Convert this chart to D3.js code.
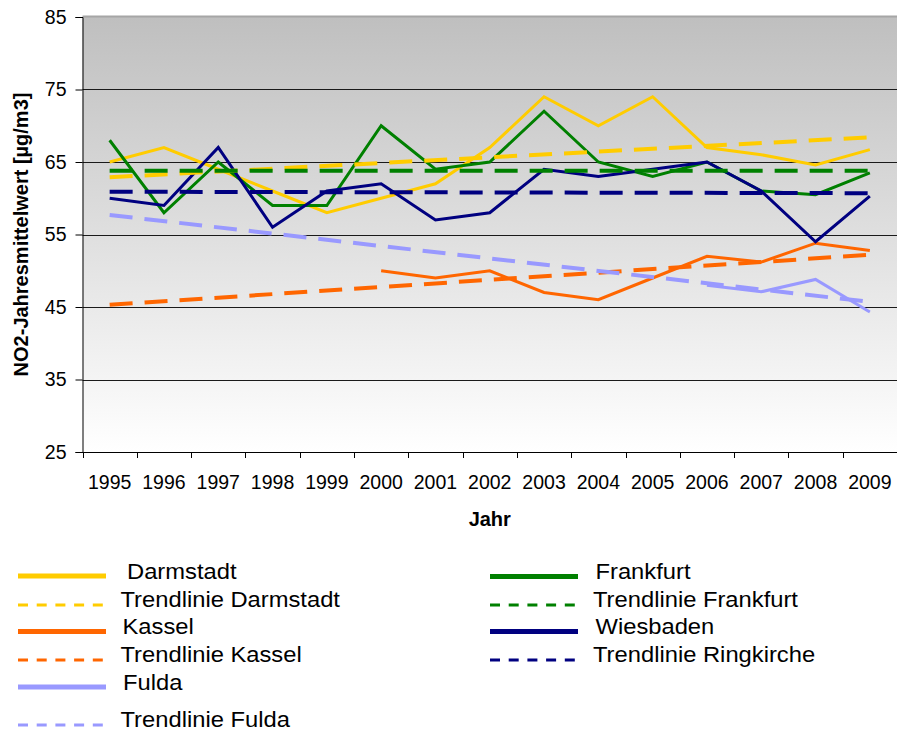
<!DOCTYPE html>
<html>
<head>
<meta charset="utf-8">
<script src="https://cdn.jsdelivr.net/npm/d3@7"></script>
<style>
  html, body { margin: 0; padding: 0; background: #fff; }
  svg { display: block; font-family: "Liberation Sans", Arial, sans-serif; }
</style>
</head>
<body>
<svg id="chart" width="897" height="731"></svg>
<script>
// ---------- data ----------
const years = ["1995","1996","1997","1998","1999","2000","2001","2002","2003","2004","2005","2006","2007","2008","2009"];
const yTicks = [25, 35, 45, 55, 65, 75, 85];

const darmstadt = [65, 67, 64, 61, 58, 60, 62, 67, 74, 70, 74, 67, 66, 64.6, 66.7];
const frankfurt = [68, 58, 65, 59, 59, 70, 64, 65, 72, 65, 63, 65, 61, 60.5, 63.5];
const wiesbaden = [60, 59, 67, 56, 61, 62, 57, 58, 64, 63, 64, 65, 61, 54, 60.3];
const kassel    = [null, null, null, null, null, 50, 49, 50, 47, 46, 49, 52, 51.2, 53.8, 52.8];
const fulda     = [null, null, null, null, null, null, null, null, null, null, null, 48, 47.1, 48.8, 44.3];

// trendlines: value at first year (1995) and last year (2009)
const trendDarmstadt  = [62.9, 68.4];
const trendFrankfurt  = [63.8, 63.8];
const trendRingkirche = [60.9, 60.7];
const trendKassel     = [45.3, 52.2];
const trendFulda      = [57.7, 45.7];

const colors = {
  darmstadt: "#FFCC00",
  frankfurt: "#008000",
  kassel: "#FF6600",
  wiesbaden: "#000080",
  fulda: "#9999FF"
};

// ---------- layout ----------
const svg = d3.select("#chart");
const plot = { left: 82.5, right: 897, top: 17, bottom: 452 };

const x = d3.scaleBand().domain(years).range([plot.left, plot.right]).padding(0);
const xc = d => x(d) + x.bandwidth() / 2;
const y = d3.scaleLinear().domain([25, 85]).range([plot.bottom, plot.top]);

// background gradient
const defs = svg.append("defs");
const grad = defs.append("linearGradient").attr("id", "bg")
  .attr("x1", 0).attr("y1", 0).attr("x2", 0).attr("y2", 1);
grad.append("stop").attr("offset", "0%").attr("stop-color", "#bfbfbf");
grad.append("stop").attr("offset", "100%").attr("stop-color", "#ffffff");

defs.append("clipPath").attr("id", "clip").append("rect")
  .attr("x", plot.left).attr("y", plot.top)
  .attr("width", plot.right - plot.left).attr("height", plot.bottom - plot.top);

svg.append("rect")
  .attr("x", plot.left).attr("y", plot.top)
  .attr("width", plot.right - plot.left).attr("height", plot.bottom - plot.top)
  .attr("fill", "url(#bg)");

// top border
svg.append("line")
  .attr("x1", plot.left).attr("x2", plot.right)
  .attr("y1", plot.top - 0.5).attr("y2", plot.top - 0.5)
  .attr("stroke", "#a6a6a6").attr("stroke-width", 2);

// gridlines
svg.append("g").selectAll("line").data(yTicks.filter(t => t !== 25 && t !== 85)).join("line")
  .attr("x1", plot.left).attr("x2", plot.right)
  .attr("y1", d => Math.round(y(d)) + 0.5).attr("y2", d => Math.round(y(d)) + 0.5)
  .attr("stroke", "#1a1a1a").attr("stroke-width", 1);

// y axis
const yAxis = d3.axisLeft(y).tickValues(yTicks).tickSize(7).tickPadding(9).tickFormat(d3.format("d"));
const gy = svg.append("g").attr("transform", `translate(${plot.left},0)`).call(yAxis);
gy.select(".domain").attr("stroke", "#000");
gy.selectAll(".tick line").attr("stroke", "#000");
gy.selectAll(".tick text").attr("font-size", 19.5).attr("fill", "#000")
  .attr("font-family", "Liberation Sans, Arial, sans-serif");

// x axis (labels at centers, ticks at boundaries)
const xAxis = d3.axisBottom(x).tickSize(0).tickPadding(0);
const gx = svg.append("g").attr("transform", `translate(0,${plot.bottom})`).call(xAxis);
gx.select(".domain").remove();
gx.selectAll(".tick text").attr("font-size", 19.5).attr("fill", "#000")
  .attr("font-family", "Liberation Sans, Arial, sans-serif")
  .attr("dy", null).attr("y", 37);
svg.append("line")
  .attr("x1", plot.left).attr("x2", plot.right)
  .attr("y1", plot.bottom + 0.5).attr("y2", plot.bottom + 0.5)
  .attr("stroke", "#000");
const boundaries = years.map(d => x(d)).concat([x(years[years.length - 1]) + x.bandwidth()]);
svg.append("g").selectAll("line").data(boundaries).join("line")
  .attr("x1", d => Math.round(d) + 0.5).attr("x2", d => Math.round(d) + 0.5)
  .attr("y1", plot.bottom).attr("y2", plot.bottom + 6)
  .attr("stroke", "#000");

// axis titles
svg.append("text").attr("x", (plot.left + plot.right) / 2).attr("y", 526)
  .attr("text-anchor", "middle").attr("font-weight", "bold").attr("font-size", 20)
  .text("Jahr");
svg.append("text")
  .attr("transform", `translate(28,${(plot.top + plot.bottom) / 2}) rotate(-90)`)
  .attr("text-anchor", "middle").attr("font-weight", "bold").attr("font-size", 20)
  .text("NO2-Jahresmittelwert [µg/m3]");

// series
const lineGen = d3.line()
  .defined(d => d.v !== null)
  .x(d => xc(d.year)).y(d => y(d.v));

const gPlot = svg.append("g").attr("clip-path", "url(#clip)");

function drawSeries(values, color) {
  const data = years.map((yr, i) => ({ year: yr, v: values[i] }));
  gPlot.append("path").datum(data)
    .attr("d", lineGen).attr("fill", "none")
    .attr("stroke", color).attr("stroke-width", 3)
    .attr("stroke-linejoin", "miter");
}
function drawTrend(vals, color) {
  const data = [{ year: years[0], v: vals[0] }, { year: years[years.length - 1], v: vals[1] }];
  gPlot.append("path").datum(data)
    .attr("d", lineGen).attr("fill", "none")
    .attr("stroke", color).attr("stroke-width", 4)
    .attr("stroke-dasharray", "23,12");
}

drawSeries(darmstadt, colors.darmstadt);
drawSeries(kassel, colors.kassel);
drawSeries(fulda, colors.fulda);
drawSeries(frankfurt, colors.frankfurt);
drawSeries(wiesbaden, colors.wiesbaden);

drawTrend(trendDarmstadt, colors.darmstadt);
drawTrend(trendKassel, colors.kassel);
drawTrend(trendFulda, colors.fulda);
drawTrend(trendFrankfurt, colors.frankfurt);
drawTrend(trendRingkirche, colors.wiesbaden);

// legend
const legendItems = [
  { label: "Darmstadt", color: colors.darmstadt, dashed: false, col: 0, ly: 576, tx: 127, ty: 578.5 },
  { label: "Trendlinie Darmstadt", color: colors.darmstadt, dashed: true, col: 0, ly: 605, tx: 120.5, ty: 607 },
  { label: "Kassel", color: colors.kassel, dashed: false, col: 0, ly: 631.5, tx: 122.5, ty: 633.5 },
  { label: "Trendlinie Kassel", color: colors.kassel, dashed: true, col: 0, ly: 660, tx: 120.5, ty: 662 },
  { label: "Fulda", color: colors.fulda, dashed: false, col: 0, ly: 687, tx: 123, ty: 690 },
  { label: "Trendlinie Fulda", color: colors.fulda, dashed: true, col: 0, ly: 725, tx: 120.5, ty: 727 },
  { label: "Frankfurt", color: colors.frankfurt, dashed: false, col: 1, ly: 576.5, tx: 595.5, ty: 578.5 },
  { label: "Trendlinie Frankfurt", color: colors.frankfurt, dashed: true, col: 1, ly: 605, tx: 593, ty: 607 },
  { label: "Wiesbaden", color: colors.wiesbaden, dashed: false, col: 1, ly: 631.5, tx: 595.5, ty: 633.5 },
  { label: "Trendlinie Ringkirche", color: colors.wiesbaden, dashed: true, col: 1, ly: 660, tx: 593, ty: 662 }
];
const colX = [[18, 106], [490, 578]];
const lg = svg.append("g");
legendItems.forEach(it => {
  lg.append("line")
    .attr("x1", colX[it.col][0]).attr("x2", colX[it.col][1])
    .attr("y1", it.ly).attr("y2", it.ly)
    .attr("stroke", it.color)
    .attr("stroke-width", it.dashed ? 3 : 5)
    .attr("stroke-dasharray", it.dashed ? "10,8.7" : null);
  lg.append("text")
    .attr("transform", `translate(${it.tx},${it.ty}) scale(1.105,1)`)
    .attr("font-size", 21.5).attr("fill", "#000").text(it.label);
});
</script>
</body>
</html>
